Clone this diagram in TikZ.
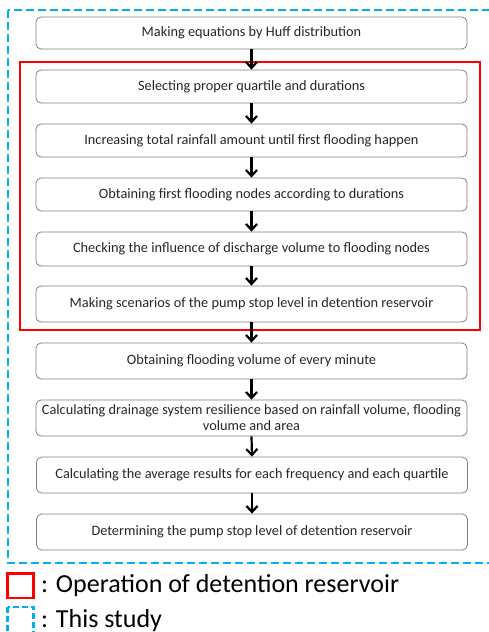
\documentclass[tikz,border=0pt]{standalone}
\usepackage{fontspec}
\setmainfont{Carlito}
\usetikzlibrary{arrows.meta}
\begin{document}
\begin{tikzpicture}[x=1pt,y=-1pt,
  stepbox/.style={draw=black!50,line width=0.8pt,rounded corners=5pt,minimum width=431pt,inner sep=0pt,align=center,font=\fontsize{14.3}{16}\selectfont,text=black!85},
  flow/.style={line width=2.2pt,-{Straight Barb[length=6pt,width=11pt,line width=2.2pt]}},
  redframe/.style={draw=red,line width=2.6pt},
  blueframe/.style={draw={rgb,255:red,0;green,176;blue,240},line width=2.6pt,dash pattern=on 8pt off 4pt},
  legendtext/.style={anchor=base west,font=\fontsize{26}{30}\selectfont,inner sep=0pt}]
\useasboundingbox (0,0) rectangle (489,632);
\clip (0,0) rectangle (489,632);
\draw[blueframe] (8,10) rectangle (500,563);
\draw[redframe] (20,62) rectangle (480,330);
\node[stepbox,minimum height=32pt] (b1) at (251.5,33) {Making equations by Huff distribution};
\node[stepbox,minimum height=33pt] (b2) at (251.5,86.5) {Selecting proper quartile and durations};
\node[stepbox,minimum height=33pt] (b3) at (251.5,140.5) {Increasing total rainfall amount until first flooding happen};
\node[stepbox,minimum height=33pt] (b4) at (251.5,194.5) {Obtaining first flooding nodes according to durations};
\node[stepbox,minimum height=34pt] (b5) at (251.5,249) {Checking the influence of discharge volume to flooding nodes};
\node[stepbox,minimum height=36pt] (b6) at (251.5,304) {Making scenarios of the pump stop level in detention reservoir};
\node[stepbox,minimum height=36pt] (b7) at (251.5,361) {Obtaining flooding volume of every minute};
\node[stepbox,minimum height=36pt] (b8) at (251.5,418) {Calculating drainage system resilience based on rainfall volume, flooding\\volume and area};
\node[stepbox,minimum height=36pt] (b9) at (252,475) {Calculating the average results for each frequency and each quartile};
\node[stepbox,minimum height=36pt] (b10) at (252,532) {Determining the pump stop level of detention reservoir};
\foreach \a/\b in {b1/b2,b2/b3,b3/b4,b4/b5,b5/b6,b6/b7,b7/b8,b8/b9,b9/b10}
  \draw[flow] (\a.south) -- (\b.north);
\draw[redframe] (7.5,573.5) rectangle (33.5,598);
\draw[blueframe,dash pattern=on 6pt off 3pt] (7.5,607) rectangle (33.5,645);
\node[legendtext] (l1) at (41,592) {: Operation of detention reservoir};
\node[legendtext] (l2) at (41,627) {: This study};
\end{tikzpicture}
\end{document}
